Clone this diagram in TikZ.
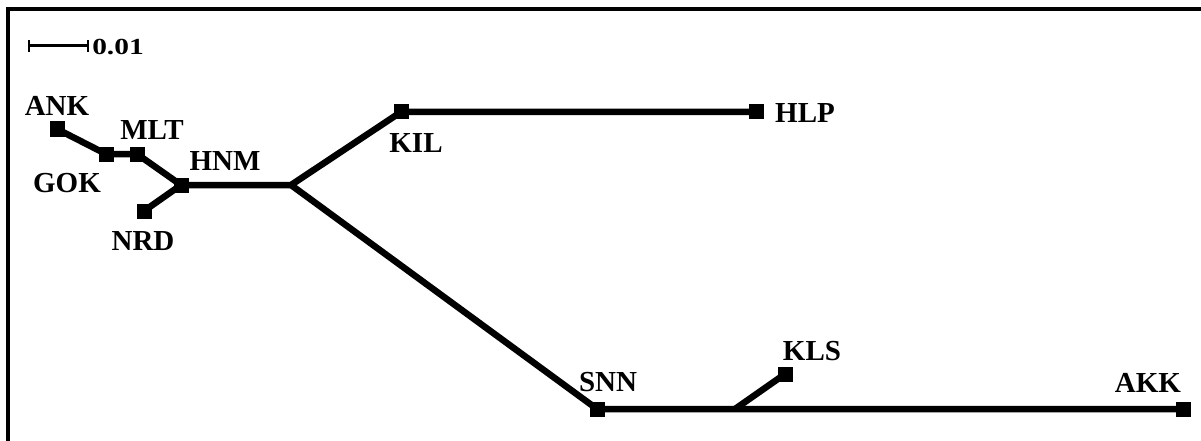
\documentclass[tikz,border=0pt]{standalone}
\usepackage{fontspec}
\setmainfont{Liberation Serif}
\begin{document}
\begin{tikzpicture}[x=1pt,y=-1pt,
  leaf/.style={fill=black,draw=none,minimum size=15pt,inner sep=0pt,rectangle},
  branch/.style={line width=6.5pt,line join=round},
  lbl/.style={font=\bfseries\fontsize{29}{29}\selectfont,inner sep=0pt,anchor=center}]
\useasboundingbox (0,0) rectangle (1201,441);
% frame (top and left edges)
\fill (6,7) rectangle (1201,11);
\fill (6,7) rectangle (10,441);
% scale bar
\coordinate (s1) at (29,46);
\coordinate (s2) at (88,46);
\draw[line width=3pt] (s1) -- (s2);
\draw[line width=2pt] ([yshift=-6pt]s1) -- ([yshift=6pt]s1);
\draw[line width=2pt] ([yshift=-6pt]s2) -- ([yshift=6pt]s2);
\node[font=\bfseries\fontsize{23}{23}\selectfont,inner sep=0pt,anchor=west,xscale=1.28] (scale) at (92,47) {0.01};
% taxa
\node[leaf] (ANK) at (57,129) {};
\node[leaf] (GOK) at (106,154) {};
\node[leaf] (MLT) at (137,154) {};
\node[leaf] (HNM) at (181,185) {};
\node[leaf] (NRD) at (144,211) {};
\node[leaf] (KIL) at (401,112) {};
\node[leaf] (HLP) at (756,112) {};
\node[leaf] (SNN) at (597,409) {};
\node[leaf] (KLS) at (785,374) {};
\node[leaf] (AKK) at (1183,409) {};
\coordinate (J1) at (291,185);
\coordinate (J2) at (735,409);
% branches
\draw[branch] (ANK.center) -- (GOK.center) -- (MLT.center) -- (HNM.center);
\draw[branch] (NRD.center) -- (HNM.center) -- (J1);
\draw[branch] (J1) -- (KIL.center) -- (HLP.center);
\draw[branch] (J1) -- (SNN.center) -- (J2) -- (AKK.center);
\draw[branch] (J2) -- (KLS.center);
% labels
\node[lbl] (tANK) at (57,106) {ANK};
\node[lbl] (tGOK) at (67,183) {GOK};
\node[lbl] (tMLT) at (152,130) {MLT};
\node[lbl] (tHNM) at (225,161) {HNM};
\node[lbl] (tNRD) at (143,241) {NRD};
\node[lbl] (tKIL) at (416,143) {KIL};
\node[lbl] (tHLP) at (805,113) {HLP};
\node[lbl] (tSNN) at (608,382) {SNN};
\node[lbl] (tKLS) at (812,351) {KLS};
\node[lbl] (tAKK) at (1148,383) {AKK};
\end{tikzpicture}
\end{document}
